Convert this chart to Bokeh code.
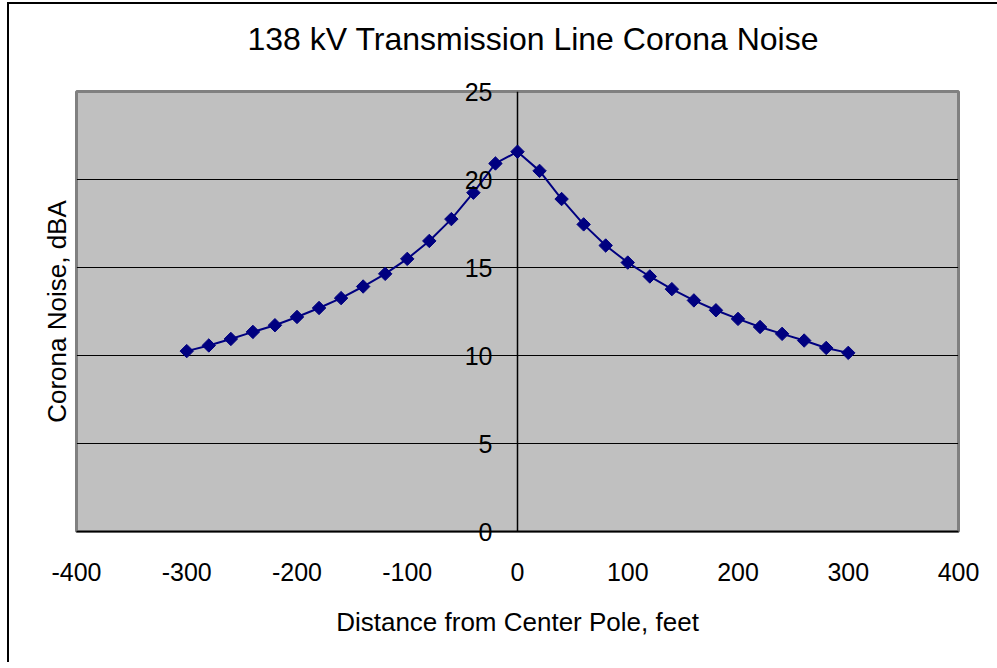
from bokeh.plotting import figure
from bokeh.models import Range1d, FixedTicker, ColumnDataSource, LinearAxis
from bokeh.embed import file_html
from bokeh.resources import INLINE

# ---- data ----
distance_ft = [-300, -280, -260, -240, -220, -200, -180, -160, -140, -120,
               -100, -80, -60, -40, -20, 0, 20, 40, 60, 80, 100, 120, 140,
               160, 180, 200, 220, 240, 260, 280, 300]
noise_dba = [10.25, 10.57, 10.94, 11.34, 11.72, 12.19, 12.70, 13.26, 13.92,
             14.64, 15.49, 16.51, 17.75, 19.25, 20.91, 21.58, 20.49, 18.89,
             17.45, 16.25, 15.28, 14.49, 13.77, 13.13, 12.57, 12.08, 11.62,
             11.23, 10.85, 10.43, 10.15]
x_ticks = [-400, -300, -200, -100, 0, 100, 200, 300, 400]
x_tick_labels = ["-400", "-300", "-200", "-100", "0", "100", "200", "300", "400"]
y_ticks = [0, 5, 10, 15, 20, 25]
y_tick_labels = ["0", "5", "10", "15", "20", "25"]
grid_levels = [5, 10, 15, 20]
y_axis_cross = [0]

title_text = "138 kV Transmission Line Corona Noise"
x_label = "Distance from Center Pole, feet"
y_label = "Corona Noise, dBA"

FONT = "Liberation Sans"

p = figure(width=996, height=660,
           x_range=Range1d(-400, 400), y_range=Range1d(0, 25),
           output_backend="svg", toolbar_location=None,
           y_axis_location=None,
           min_border_left=67, min_border_right=47,
           min_border_top=87, min_border_bottom=133,
           background_fill_color="#C0C0C0", border_fill_color="white",
           outline_line_color="#808080", outline_line_width=3,
           styles={"margin-left": "7px", "margin-top": "2px",
                   "border-left": "2px solid black",
                   "border-top": "2px solid black"})

# chart title (outermost item of the top panel)
p.title.text = title_text
p.title.align = "left"
p.title.offset = 171
p.title.standoff = 0
p.title.text_font = FONT
p.title.text_font_size = "32px"
p.title.text_font_style = "normal"
p.title.text_color = "black"

# invisible spacer axis between plot area and title
spacer = LinearAxis(ticker=FixedTicker(ticks=[0]),
                    major_label_overrides={0: ""},
                    major_label_text_font_size="0px",
                    axis_line_color=None,
                    major_tick_out=35, major_tick_in=0,
                    minor_tick_out=0, minor_tick_in=0,
                    major_tick_line_color=None, minor_tick_line_color=None,
                    major_label_standoff=0)
p.add_layout(spacer, "above")

# y axis: tick labels pulled in next to the x = 0 line, title at far left
yaxis = LinearAxis(ticker=FixedTicker(ticks=y_ticks),
                   major_label_overrides={t: s for t, s in zip(y_ticks, y_tick_labels)},
                   axis_line_color=None,
                   major_tick_out=0, major_tick_in=0,
                   minor_tick_out=0, minor_tick_in=0,
                   major_label_standoff=-416,
                   major_label_text_font=FONT,
                   major_label_text_font_size="25px",
                   major_label_text_color="black",
                   axis_label=y_label, axis_label_standoff=390,
                   axis_label_text_font=FONT,
                   axis_label_text_font_size="26px",
                   axis_label_text_font_style="normal",
                   axis_label_text_color="black")
p.add_layout(yaxis, "left")

# x axis (bottom)
xa = p.below[0]
xa.ticker = FixedTicker(ticks=x_ticks)
xa.major_label_overrides = {t: s for t, s in zip(x_ticks, x_tick_labels)}
xa.major_tick_out = 0
xa.major_tick_in = 0
xa.minor_tick_out = 0
xa.minor_tick_in = 0
xa.axis_line_color = "black"
xa.axis_line_width = 1.5
xa.major_label_text_font = FONT
xa.major_label_text_font_size = "25px"
xa.major_label_text_color = "black"
xa.major_label_standoff = 31
xa.axis_label = x_label
xa.axis_label_text_font = FONT
xa.axis_label_text_font_size = "26px"
xa.axis_label_text_font_style = "normal"
xa.axis_label_text_color = "black"
xa.axis_label_standoff = 23
p.xgrid.grid_line_color = None

# horizontal gridlines and the vertical axis line at x = 0
p.hspan(y=grid_levels, line_color="black", line_width=1)
p.vspan(x=y_axis_cross, line_color="black", line_width=1.5)

src = ColumnDataSource(dict(x=distance_ft, y=noise_dba))
p.line(x="x", y="y", source=src, line_color="#000080", line_width=2)
p.scatter(x="x", y="y", source=src, marker="square", angle=0.785398,
          size=9.5, fill_color="#000080", line_color="#000080")

open("out.html", "w").write(file_html(p, INLINE))
